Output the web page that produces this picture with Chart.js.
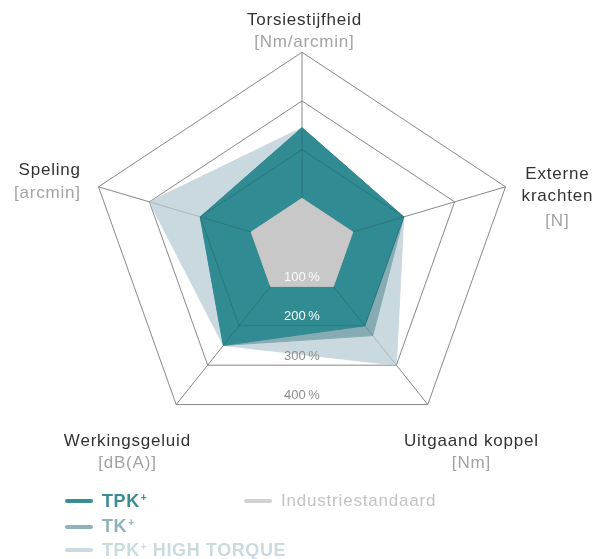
<!DOCTYPE html>
<html><head><meta charset="utf-8">
<script src="https://cdn.jsdelivr.net/npm/chart.js@4.4.1/dist/chart.umd.min.js"></script>
<style>
html,body{margin:0;padding:0;background:#fff;}
#wrap{position:relative;width:614px;height:559px;overflow:hidden;}
#wrap canvas{position:absolute;left:0;top:0;}
#legend{position:absolute;left:0;top:0;width:614px;height:559px;pointer-events:none;font-family:"Liberation Sans",Arial,sans-serif;}
.item{position:absolute;height:22px;display:flex;align-items:center;white-space:nowrap;}
.item .sw{width:28px;height:4px;border-radius:2px;margin-right:9px;}
.item .tx{font-size:18px;font-weight:bold;letter-spacing:0.6px;}
.item .tx.reg{font-size:17px;font-weight:normal;letter-spacing:0.8px;}
.item .sup{font-size:10px;position:relative;top:-6px;margin-left:1px;}
</style></head>
<body>
<div id="wrap">
  <canvas id="c1" width="614" height="559"></canvas>
  <canvas id="c2" width="614" height="559"></canvas>
  <div id="legend"></div>
</div>
<script>
// ---------- data ----------
const categories = ['Torsiestijfheid', ['Externe', 'krachten'], 'Uitgaand koppel', 'Werkingsgeluid', 'Speling'];
const units = ['[Nm/arcmin]', '[N]', '[Nm]', '[dB(A)]', '[arcmin]'];
const seriesNames = ['TPK+', 'TK+', 'TPK+ HIGH TORQUE', 'Industriestandaard'];
const tpkPlus        = [245, 200, 200, 250, 200];
const tkPlus         = [245, 200, 225, 250, 200];
const tpkHighTorque  = [245, 200, 300, 250, 300];
const industrie      = [100, 100, 100, 100, 100];
const tickValues = [100, 200, 300, 400];
const tickLabels = ['100\u2009%', '200\u2009%', '300\u2009%', '400\u2009%'];

// ---------- styles ----------
const fillColors   = ['#318b92', '#87abb2', '#c9d9df', '#c8c8c8'];
const legendColors = ['#3b8d94', '#8fb3ba', '#cbdae0', '#d2d2d2'];
const legendText   = ['#3b8d94', '#8fb3ba', '#cbdae0', '#c3c3c3'];
const tickColors   = ['rgba(255,255,255,0.92)', '#ffffff', '#8e8e8e', '#8e8e8e'];
const SY = 0.91;              // vertical squash of the web
const FONT = '"Liberation Sans", Arial, sans-serif';
const labelLayout = [
  {x: 304, y: 20,    align: 'center', unitGap: 22},
  {x: 557, y: 174,   align: 'center', unitGap: 24.5},
  {x: 471, y: 441,   align: 'center', unitGap: 22},
  {x: 127, y: 441,   align: 'center', unitGap: 22},
  {x: 80,  y: 170.5, align: 'right',  unitGap: 22.5}
];
const legendLayout = [{x: 65, y: 501}, {x: 65, y: 526.5}, {x: 65, y: 550}, {x: 244, y: 501}];

const padding = {left: 88, right: 97, top: 33, bottom: 98};

function squash(id) {
  return {
    id,
    beforeDraw(chart) {
      const s = chart.scales.r, ctx = chart.ctx;
      ctx.save();
      ctx.translate(0, s.yCenter);
      ctx.scale(1, SY);
      ctx.translate(0, -s.yCenter);
    },
    afterDraw(chart) { chart.ctx.restore(); }
  };
}

function spacedText(ctx, text, x, y, align, spacing) {
  if ('letterSpacing' in ctx) {
    ctx.letterSpacing = spacing + 'px';
    const w = ctx.measureText(text).width - spacing;
    ctx.textAlign = 'left';
    const x0 = align === 'center' ? x - w / 2 : align === 'right' ? x - w : x;
    ctx.fillText(text, x0, y);
    ctx.letterSpacing = '0px';
  } else {
    ctx.textAlign = align;
    ctx.fillText(text, x, y);
  }
}

const textPlugin = {
  id: 'texts',
  afterDraw(chart) {
    const ctx = chart.ctx, s = chart.scales.r;
    ctx.save();
    ctx.textBaseline = 'middle';
    // tick labels, along the bottom (apothem) of each ring
    ctx.font = '13px ' + FONT;
    ctx.textAlign = 'center';
    tickValues.forEach((v, i) => {
      const d = s.getDistanceFromCenterForValue(v) * SY * Math.cos(Math.PI / 5);
      ctx.fillStyle = tickColors[i];
      ctx.fillText(tickLabels[i], s.xCenter, s.yCenter + d - 9);
    });
    // axis labels
    categories.forEach((cat, i) => {
      const L = labelLayout[i];
      const lines = Array.isArray(cat) ? cat : [cat];
      ctx.font = '17px ' + FONT;
      ctx.fillStyle = '#333333';
      let y = L.y;
      lines.forEach((ln, j) => {
        spacedText(ctx, ln, L.x, y, L.align, 0.8);
        if (j < lines.length - 1) y += 22.5;
      });
      ctx.fillStyle = '#a3a3a3';
      spacedText(ctx, units[i], L.x, y + L.unitGap, L.align, 0.8);
    });
    ctx.restore();
  }
};

function radialScale(extra) {
  return Object.assign({
    type: 'radialLinear',
    min: 0, max: 400,
    startAngle: 0,
    ticks: {display: false, stepSize: 100},
    pointLabels: {display: false}
  }, extra);
}

function ds(i, data, order) {
  return {
    label: seriesNames[i], data, order,
    backgroundColor: fillColors[i], borderColor: fillColors[i], borderWidth: 1,
    pointRadius: 0, pointHoverRadius: 0, fill: true, tension: 0
  };
}

const common = {
  responsive: false, animation: false, events: [],
  layout: {padding},
  plugins: {legend: {display: false}, tooltip: {enabled: false}}
};

new Chart(document.getElementById('c1'), {
  type: 'radar',
  data: {
    labels: categories,
    datasets: [ds(0, tpkPlus, 1), ds(1, tkPlus, 2), ds(2, tpkHighTorque, 3)]
  },
  options: Object.assign({}, common, {
    scales: {
      r: radialScale({
        grid: {color: '#a2a2a2', lineWidth: 1},
        angleLines: {color: '#a2a2a2', lineWidth: 1}
      }),
      r2: radialScale({
        grid: {color: 'rgba(0,0,0,0.16)', lineWidth: 1, z: 1},
        angleLines: {color: 'rgba(0,0,0,0.16)', lineWidth: 1}
      })
    }
  }),
  plugins: [squash('sq1')]
});

new Chart(document.getElementById('c2'), {
  type: 'radar',
  data: {
    labels: categories,
    datasets: [ds(3, industrie, 0)]
  },
  options: Object.assign({}, common, {
    scales: {
      r: radialScale({grid: {display: false}, angleLines: {display: false}})
    }
  }),
  plugins: [squash('sq2'), textPlugin]
});

// ---------- legend (HTML) ----------
const legend = document.getElementById('legend');
seriesNames.forEach((name, i) => {
  const L = legendLayout[i];
  const item = document.createElement('div');
  item.className = 'item';
  item.style.left = L.x + 'px';
  item.style.top = (L.y - 11) + 'px';
  const sw = document.createElement('span');
  sw.className = 'sw';
  sw.style.background = legendColors[i];
  const tx = document.createElement('span');
  tx.className = 'tx' + (name.indexOf('+') < 0 ? ' reg' : '');
  tx.style.color = legendText[i];
  name.split('+').forEach((part, j, arr) => {
    tx.appendChild(document.createTextNode(part));
    if (j < arr.length - 1) {
      const sp = document.createElement('span');
      sp.className = 'sup';
      sp.textContent = '+';
      tx.appendChild(sp);
    }
  });
  item.appendChild(sw);
  item.appendChild(tx);
  legend.appendChild(item);
});
</script>
</body></html>
